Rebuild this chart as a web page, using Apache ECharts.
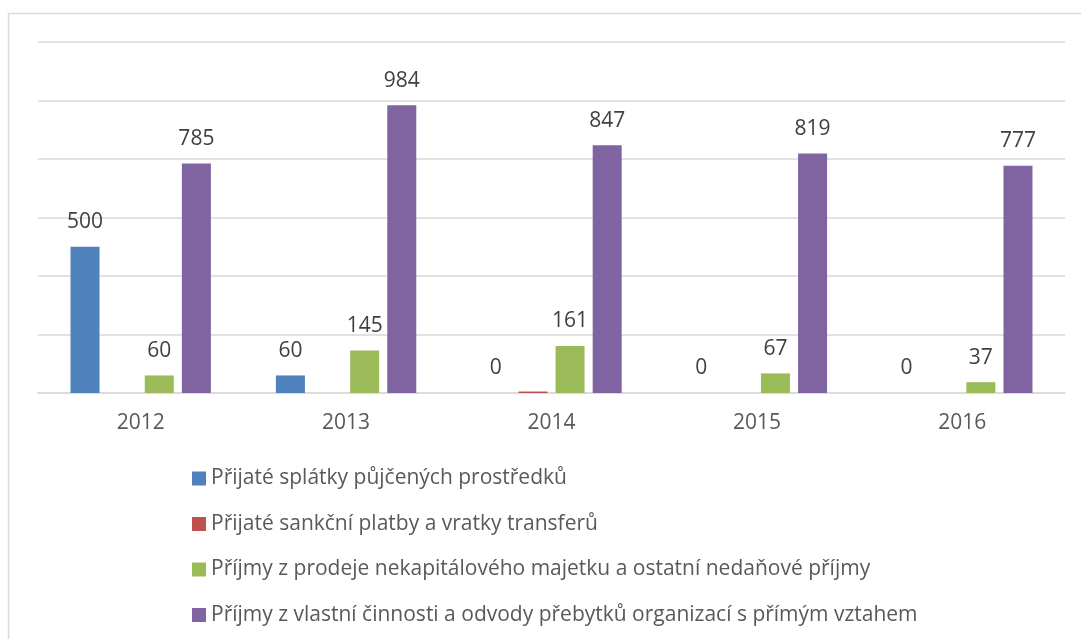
<!DOCTYPE html>
<html>
<head>
<meta charset="utf-8">
<script src="https://cdn.jsdelivr.net/npm/echarts@6/dist/echarts.min.js"></script>
<style>
  html, body { margin: 0; padding: 0; background: #fff; }
  #chart1 { width: 1081px; height: 639px; }
</style>
</head>
<body>
<div id="chart1"></div>
<script>
const roky = ["2012", "2013", "2014", "2015", "2016"];
const nazvyRad = [
  "Přijaté splátky půjčených prostředků",
  "Přijaté sankční platby a vratky transferů",
  "Příjmy z prodeje nekapitálového majetku a ostatní nedaňové příjmy",
  "Příjmy z vlastní činnosti a odvody přebytků organizací s přímým vztahem",
];
const splatky = [500, 60, 0, 0, 0];
const sankcni = [0, 0, 5, 0, 0];
const prodej = [60, 145, 161, 67, 37];
const vlastni = [785, 984, 847, 819, 777];
const barvy = ["#4F81BD", "#C0504D", "#9BBB59", "#8064A2"];

const FONT = "'Open Sans', 'Noto Sans', sans-serif";

const serie = (i, data, showLabel) => {
  return {
    name: nazvyRad[i],
    type: "bar",
    data: data,
    barWidth: 29,
    barGap: "28%",
    itemStyle: { color: barvy[i] },
    label: {
      show: showLabel,
      position: "top",
      distance: 14,
      color: "#404040",
      fontSize: 21,
      fontFamily: FONT,
    },
  };
};

const getOptionChart1 = () => {
  return {
    animation: false,
    graphic: [
      {
        type: "polyline",
        shape: { points: [[8.5, 650], [8.5, 13.5], [1090, 13.5]] },
        style: { stroke: "#d9d9d9", lineWidth: 1.5, fill: null },
        silent: true,
      },
    ],
    legend: {
      orient: "vertical",
      left: 192,
      top: 467.5,
      padding: 0,
      itemWidth: 14,
      itemHeight: 14,
      itemGap: 23.5,
      icon: "rect",
      textStyle: {
        color: "#595959",
        fontSize: 21,
        lineHeight: 22,
        fontFamily: FONT,
      },
      data: nazvyRad,
    },
    grid: {
      left: 38,
      right: 16,
      top: 42,
      bottom: 246,
    },
    xAxis: [
      {
        type: "category",
        data: roky,
        axisLine: { lineStyle: { color: "#d9d9d9", width: 1.5 } },
        axisTick: { show: false },
        axisLabel: {
          color: "#595959",
          fontSize: 21,
          margin: 20,
          fontFamily: FONT,
        },
      },
    ],
    yAxis: [
      {
        type: "value",
        min: 0,
        max: 1200,
        interval: 200,
        axisLabel: { show: false },
        axisLine: { show: false },
        axisTick: { show: false },
        splitLine: { lineStyle: { color: "#d9d9d9", width: 1.5 } },
      },
    ],
    series: [
      serie(0, splatky, true),
      serie(1, sankcni, false),
      serie(2, prodej, true),
      serie(3, vlastni, true),
    ],
  };
};

const initCharts = () => {
  const chart1 = echarts.init(document.getElementById("chart1"));
  chart1.setOption(getOptionChart1());
};

window.addEventListener("load", () => {
  initCharts();
});
</script>
</body>
</html>
